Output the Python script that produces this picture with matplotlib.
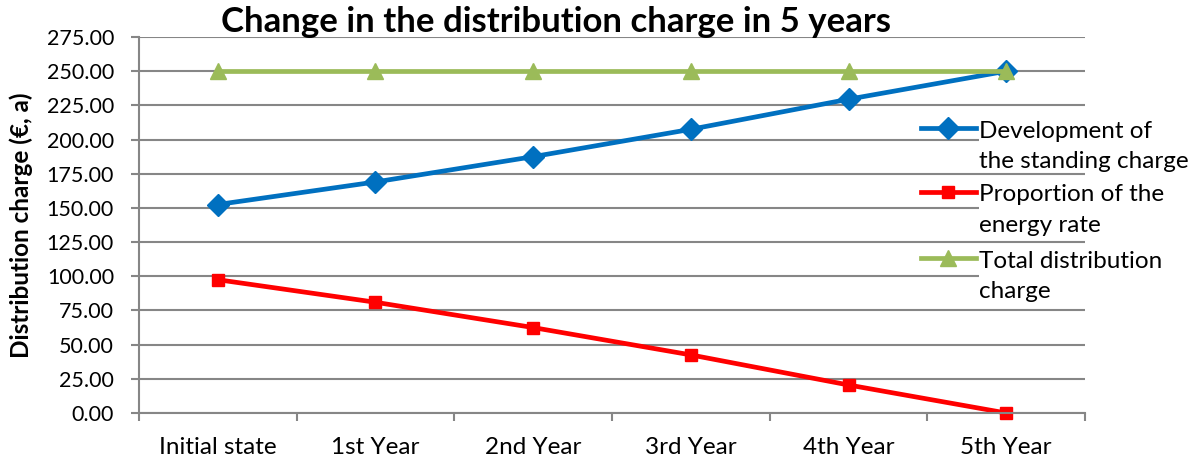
import matplotlib
matplotlib.use('Agg')
import matplotlib.pyplot as plt
from matplotlib.lines import Line2D
import numpy as np

plt.rcParams['font.family'] = ['Lato', 'DejaVu Sans']

categories = ['Initial state', '1st Year', '2nd Year', '3rd Year', '4th Year', '5th Year']
standing_charge = [152.5, 169.0, 187.5, 207.5, 229.5, 250.0]
energy_rate = [97.5, 81.0, 62.5, 42.5, 20.5, 0.0]
total_charge = [250.0, 250.0, 250.0, 250.0, 250.0, 250.0]
yticks = np.arange(0, 276, 25)

series = [
    ('Development of\nthe standing charge', standing_charge, '#0070C0', 'D', 11),
    ('Proportion of the\nenergy rate', energy_rate, '#FF0000', 's', 8),
    ('Total distribution\ncharge', total_charge, '#9BBB59', '^', 11),
]

GRAY = '#868686'

fig = plt.figure(figsize=(11.93, 4.61), dpi=100)
ax = fig.add_axes([0.1165, 0.1041, 0.793, 0.8156])

x = np.arange(len(categories))
for label, vals, color, marker, ms in series:
    ax.plot(x, vals, color=color, lw=3.4, marker=marker, ms=ms,
            solid_capstyle='butt', clip_on=False)

ax.set_xlim(-0.5, len(categories) - 0.5)
ax.set_ylim(0, 275)
ax.set_yticks(yticks)
ax.set_yticklabels(['%.2f' % v for v in yticks], fontsize=15.5)
ax.set_xticks(np.arange(len(categories) + 1) - 0.5)
ax.set_xticklabels([])
ax.set_xticks(x, minor=True)
ax.set_xticklabels(categories, minor=True, fontsize=17.5)
ax.tick_params(axis='x', which='major', length=6, color=GRAY, width=1.5)
ax.tick_params(axis='x', which='minor', length=0, pad=17)
ax.tick_params(axis='y', length=6, color=GRAY, width=1.5, pad=12)
ax.yaxis.grid(True, color=GRAY, lw=1.5)
ax.set_axisbelow(True)
for side in ['top', 'right']:
    ax.spines[side].set_visible(False)
for side in ['left', 'bottom']:
    ax.spines[side].set_color(GRAY)
    ax.spines[side].set_linewidth(1.5)

ax.set_ylabel('Distribution charge (€, a)', fontsize=17.5, fontweight='bold', labelpad=10)
fig.text(0.4657, 0.952, 'Change in the distribution charge in 5 years',
         fontsize=25, fontweight='bold', ha='center', va='center')

# legend drawn by hand so the key sits on the first line of each label
leg_x0, leg_x1 = 0.772, 0.818
leg_y = [0.722, 0.5835, 0.440]
line_step = 32 / 461
for (label, vals, color, marker, ms), y in zip(series, leg_y):
    fig.add_artist(Line2D([leg_x0, leg_x1], [y, y], color=color, lw=3.4,
                          transform=fig.transFigure))
    fig.add_artist(Line2D([(leg_x0 + leg_x1) / 2], [y], color=color, marker=marker,
                          ms=ms, transform=fig.transFigure))
    fig.text(0.821, y - 0.017 - line_step, label, fontsize=17.5, ha='left',
             va='baseline', linespacing=1.55,
             bbox=dict(facecolor='white', edgecolor='none', pad=0))

fig.savefig('out.png', dpi=100)
